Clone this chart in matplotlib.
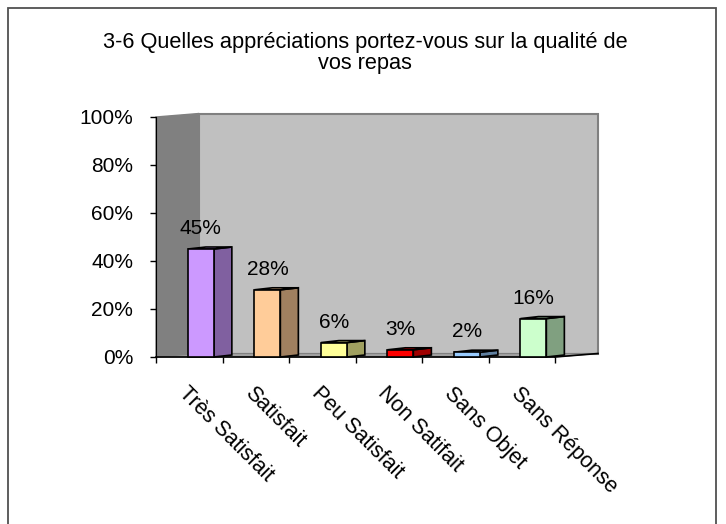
import numpy as np
import matplotlib
matplotlib.use('Agg')
import matplotlib.pyplot as plt
from matplotlib.patches import Polygon, Rectangle

plt.rcParams['font.family'] = ['Liberation Sans', 'DejaVu Sans']

title_1 = "3-6 Quelles appréciations portez-vous sur la qualité de"
title_2 = "vos repas"
categories = ['Très Satisfait', 'Satisfait', 'Peu Satisfait', 'Non Satifait', 'Sans Objet', 'Sans Réponse']
values = [45, 28, 6, 3, 2, 16]
front_colors = ['#CC99FF', '#FFCC99', '#FFFF99', '#FF0000', '#99CCFF', '#CCFFCC']
side_colors = ['#8060A0', '#A08060', '#A0A060', '#A00000', '#6080A0', '#80A080']
yticks = [0, 0.2, 0.4, 0.6, 0.8, 1.0]

W, H = 726, 524
fig = plt.figure(figsize=(W / 100, H / 100), dpi=100)
fig.patch.set_facecolor('white')

# outer frame of the chart
fig.patches.append(Rectangle((8 / W, -0.05), 708 / W, 1.05 - 8 / H, transform=fig.transFigure,
                             fill=False, edgecolor='#505050', linewidth=1.3))

fig.text(365 / W, 1 - 48 / H, title_1, ha='center', va='baseline', fontsize=15.7)
fig.text(365 / W, 1 - 69 / H, title_2, ha='center', va='baseline', fontsize=15.7)

# front plane of the 3d box
ax = fig.add_axes([156 / W, 1 - 357 / H, 399 / W, 240 / H])
ax.set_xlim(0, 6)
ax.set_ylim(0, 1)
ax.patch.set_visible(False)
for s in ['top', 'right']:
    ax.spines[s].set_visible(False)
ax.spines['left'].set_zorder(1)
ax.spines['bottom'].set_visible(False)

DX = 43 / 66.5
DY = 3.5 / 240

# walls and floor
back = Polygon([(DX, DY), (6 + DX, DY), (6 + DX, 1 + DY), (DX, 1 + DY)], closed=True,
               facecolor='#C0C0C0', edgecolor='#808080', linewidth=1.5, clip_on=False, zorder=0)
side = Polygon([(0, 0), (DX, DY), (DX, 1 + DY), (0, 1)], closed=True,
               facecolor='#808080', edgecolor='#808080', linewidth=1, clip_on=False, zorder=0.5)
floor = Polygon([(0, 0), (6, 0), (6 + DX, DY), (DX, DY)], closed=True,
                facecolor='#A0A0A0', edgecolor='#808080', linewidth=0.8, clip_on=False, zorder=0.6)
for p in (back, side, floor):
    ax.add_patch(p)
ax.plot([0, 6], [0, 0], color='black', linewidth=1.2, clip_on=False, zorder=0.7)
ax.plot([6, 6 + DX], [0, DY], color='black', linewidth=1.2, clip_on=False, zorder=0.7)

# bars
f0, f1 = 0.48, 0.87
bd = 18 / 66.5
bdy = 2 / 240
for i, v in enumerate(values):
    h = v / 100
    x0, x1 = i + f0, i + f1
    ax.add_patch(Polygon([(x1, 0), (x1 + bd, bdy), (x1 + bd, h + bdy), (x1, h)], closed=True,
                         facecolor=side_colors[i], edgecolor='black', linewidth=1.2,
                         clip_on=False, zorder=3))
    ax.add_patch(Polygon([(x0, h), (x1, h), (x1 + bd, h + bdy), (x0 + bd, h + bdy)], closed=True,
                         facecolor=front_colors[i], edgecolor='black', linewidth=1.2,
                         clip_on=False, zorder=3))
    ax.add_patch(Rectangle((x0, 0), x1 - x0, h, facecolor=front_colors[i], edgecolor='black',
                           linewidth=1.2, clip_on=False, zorder=4))
    ax.annotate(f"{v}%", ((x0 + x1) / 2, h), xytext=(0, 10.8), textcoords='offset points',
                ha='center', va='baseline', fontsize=15)

# axes ticks
ax.set_yticks(yticks)
ax.set_yticklabels([f"{int(t * 100)}%" for t in yticks], fontsize=15)
ax.tick_params(axis='y', direction='out', length=4.3, width=1, pad=12)
ax.set_xticks(np.arange(0, 7))
ax.set_xticklabels([])
ax.tick_params(axis='x', which='major', direction='out', length=4.3, width=1)
ax.set_xticks(np.arange(6) + 0.5, minor=True)
ax.set_xticklabels(categories, minor=True, fontsize=15.5)
ax.tick_params(axis='x', which='minor', length=0, pad=18.5)
for lab in ax.get_xticklabels(minor=True):
    lab.set_rotation(-45)
    lab.set_ha('left')
    lab.set_va('top')
    lab.set_rotation_mode('anchor')

fig.savefig('out.png', dpi=100)
